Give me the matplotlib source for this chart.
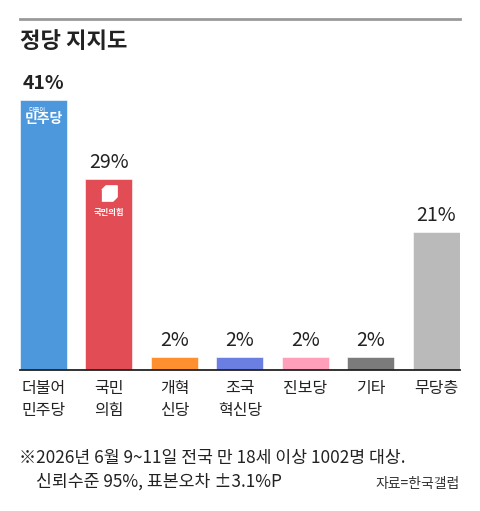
import numpy as np
import matplotlib.pyplot as plt
from matplotlib.lines import Line2D
from matplotlib.transforms import ScaledTranslation

plt.rcParams['font.family'] = ['Noto Sans CJK KR', 'DejaVu Sans']

parties = ['더불어\n민주당', '국민\n의힘', '개혁\n신당', '조국\n혁신당', '진보당', '기타', '무당층']
support = [41, 29, 2, 2, 2, 2, 21]
colors = ['#4d98dd', '#e14c55', '#ff8f2f', '#6a7fe1', '#ff9fb9', '#7b7b7b', '#bababa']

W, H = 480, 511
fig = plt.figure(figsize=(W / 100, H / 100), dpi=100)


def px(x, y):
    # pixel coords (from top-left) to figure fraction
    return x / W, 1 - y / H


# axes: x 20..460 px, baseline at y=370 px, 6.585 px per percent
left, right, base, top = 20, 460, 370, 60
ax = fig.add_axes([left / W, 1 - base / H, (right - left) / W, (base - top) / H])
bw = 47 / 65.5
x = np.arange(len(parties))
ax.bar(x, support, width=bw, color=colors, edgecolor='white', linewidth=0.4)
ax.set_xlim(-bw / 2, len(parties) - 1 + bw / 2)
ax.set_ylim(0, (base - top) / 6.585)
ax.axis('off')
ax.axhline(0, color='#222222', lw=1.3, clip_on=False)

for i, v in enumerate(support):
    ax.annotate(f'{v}%', (i, v), xytext=(0, 12), textcoords='offset points',
                ha='center', va='center', fontsize=14,
                fontweight='bold' if i == 0 else 'normal', color='#222222')
    ax.annotate(parties[i], (i, 0), xytext=(0, -7.5), textcoords='offset points',
                ha='center', va='top', fontsize=11.5, color='#222222',
                linespacing=1.35)

# party logos inside bars
ax.annotate('더불어', (0, support[0]), xytext=(-5, -7), textcoords='offset points',
            ha='center', va='center', fontsize=4.5, color='white')
ax.annotate('민주당', (0, support[0]), xytext=(0, -14), textcoords='offset points',
            ha='center', va='center', fontsize=10, fontweight='black', color='white')
logo = [(-1, 0.45), (-0.45, 1), (1, 1), (1, -0.45), (0.45, -1), (-1, -1)]
ax.plot([1], [support[1]], marker=logo, markersize=11, color='white',
        transform=ax.transData + ScaledTranslation(0, -14 / 100, fig.dpi_scale_trans))
ax.annotate('국민의힘', (1, support[1]), xytext=(0, -24), textcoords='offset points',
            ha='center', va='center', fontsize=6, fontweight='bold', color='white')

# top rule and title
fig.add_artist(Line2D([left / W, right / W], [1 - 19.5 / H] * 2, color='#999999', lw=2))
fig.text(*px(20, 42), '정당 지지도', fontsize=16, fontweight='bold', color='#222222',
         va='center', ha='left')

fig.text(*px(19, 458), '※2026년 6월 9~11일 전국 만 18세 이상 1002명 대상.',
         fontsize=12.4, color='#222222', va='center', ha='left')
fig.text(*px(36, 482), '신뢰수준 95%, 표본오차 ±3.1%P',
         fontsize=12.4, color='#222222', va='center', ha='left')
fig.text(*px(460, 484), '자료=한국갤럽', fontsize=10, color='#333333',
         va='center', ha='right')

fig.savefig('out.png', dpi=100)
